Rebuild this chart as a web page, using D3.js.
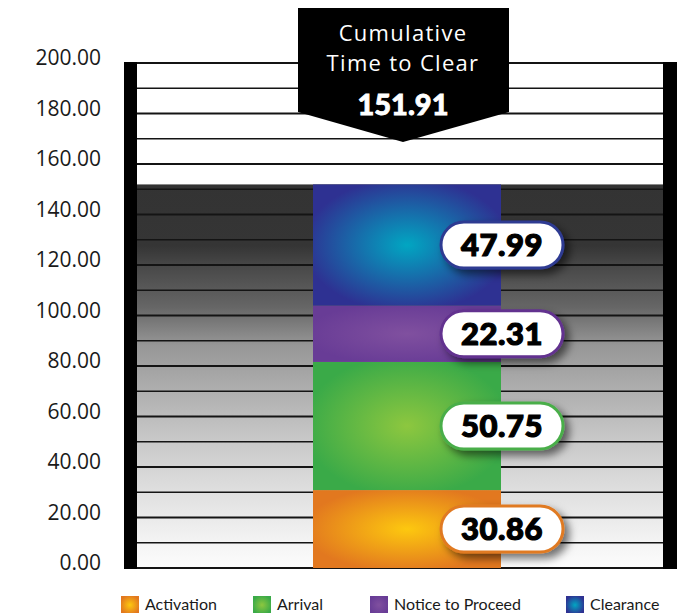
<!DOCTYPE html>
<html>
<head>
<meta charset="utf-8">
<script src="https://cdn.jsdelivr.net/npm/d3@7"></script>
<style>
  html, body { margin: 0; padding: 0; background: #fff; }
  svg { display: block; font-family: Lato, "Open Sans", sans-serif; }
</style>
</head>
<body>
<svg id="chart" width="696" height="613"></svg>
<script>
const categories = ['Activation', 'Arrival', 'Notice to Proceed', 'Clearance'];
const values = [30.86, 50.75, 22.31, 47.99];
const yTicks = [0, 20, 40, 60, 80, 100, 120, 140, 160, 180, 200];
const gridValues = d3.range(0, 201, 10);
const calloutTitle = ['Cumulative', 'Time to Clear'];

const colors = {
  'Activation':        { inner: '#fdc80f', outer: '#e2781f', border: '#e07a22' },
  'Arrival':           { inner: '#8dc73f', outer: '#3aaa48', border: '#4aae4a' },
  'Notice to Proceed': { inner: '#80509f', outer: '#683c96', border: '#62308f' },
  'Clearance':         { inner: '#01a6c2', outer: '#2e3192', border: '#2e3a92' }
};

const svg = d3.select('#chart');
const plot = { left: 137, right: 663, top: 63, bottom: 568 };

const y = d3.scaleLinear().domain([0, 200]).range([plot.bottom, plot.top]);
const x = d3.scaleBand().domain(['total']).range([313, 501]);

const total = d3.sum(values);
let acc = 0;
const stack = categories.map((c, i) => {
  const d = { name: c, value: values[i], y0: acc, y1: acc + values[i] };
  acc += values[i];
  return d;
});

const defs = svg.append('defs');

// background gradient of the filled part
const bg = defs.append('linearGradient')
  .attr('id', 'bg-grad')
  .attr('x1', 0).attr('y1', 0).attr('x2', 0).attr('y2', 1);
[[0, '#333'], [0.16, '#353535'], [0.21, '#474747'], [0.32, '#666'], [0.42, '#979797'],
 [0.57, '#b5b5b5'], [0.66, '#c7c7c7'], [0.83, '#e4e4e4'], [0.95, '#f6f6f6'], [1, '#fcfcfc']]
  .forEach(([o, c]) => bg.append('stop').attr('offset', o).attr('stop-color', c));

categories.forEach((c, i) => {
  const g = defs.append('radialGradient')
    .attr('id', 'seg-' + i)
    .attr('cx', 0.5).attr('cy', 0.5).attr('r', 0.55);
  g.append('stop').attr('offset', 0).attr('stop-color', colors[c].inner);
  g.append('stop').attr('offset', 1).attr('stop-color', colors[c].outer);
});

const shadow = defs.append('filter')
  .attr('id', 'pill-shadow')
  .attr('x', '-30%').attr('y', '-50%').attr('width', '170%').attr('height', '220%');
shadow.append('feDropShadow')
  .attr('dx', 5).attr('dy', 5)
  .attr('stdDeviation', 4)
  .attr('flood-color', '#000')
  .attr('flood-opacity', 0.55);

// gray filled band up to the total
svg.append('rect')
  .attr('x', plot.left)
  .attr('y', y(total))
  .attr('width', plot.right - plot.left)
  .attr('height', y(0) - y(total))
  .attr('fill', 'url(#bg-grad)');

// grid lines
svg.append('g')
  .selectAll('line')
  .data(gridValues)
  .join('line')
  .attr('x1', plot.left)
  .attr('x2', plot.right)
  .attr('y1', d => y(d))
  .attr('y2', d => y(d))
  .attr('stroke', '#141414')
  .attr('stroke-width', d => d % 20 === 0 ? 2.2 : 1.4);

// side posts
[[124, 137], [663, 677]].forEach(([a, b]) => {
  svg.append('rect')
    .attr('x', a).attr('y', plot.top - 1)
    .attr('width', b - a).attr('height', plot.bottom - plot.top + 2)
    .attr('fill', '#000');
});

// y axis labels
const yAxis = svg.append('g')
  .attr('transform', 'translate(101,0)')
  .call(d3.axisLeft(y).tickValues(yTicks).tickFormat(d3.format('.2f')).tickSize(0).tickPadding(0));
yAxis.select('.domain').remove();
yAxis.selectAll('text')
  .attr('y', -5)
  .attr('font-size', 21)
  .attr('font-family', '"Open Sans", Lato, sans-serif')
  .attr('fill', '#1a1a1a');

// stacked segments
svg.append('g')
  .selectAll('rect')
  .data(stack)
  .join('rect')
  .attr('x', x('total'))
  .attr('width', x.bandwidth())
  .attr('y', d => y(d.y1))
  .attr('height', d => y(d.y0) - y(d.y1))
  .attr('fill', (d, i) => `url(#seg-${i})`);

// value pills
const pillW = 122, pillH = 46;
const pills = svg.append('g')
  .selectAll('g')
  .data(stack)
  .join('g')
  .attr('transform', d => `translate(${x('total') + x.bandwidth()}, ${y((d.y0 + d.y1) / 2)})`);
pills.append('rect')
  .attr('x', -pillW / 2 + 1)
  .attr('y', -pillH / 2)
  .attr('width', pillW)
  .attr('height', pillH)
  .attr('rx', pillH / 2)
  .attr('fill', '#fff')
  .attr('stroke', d => colors[d.name].border)
  .attr('stroke-width', 3)
  .attr('filter', 'url(#pill-shadow)');
pills.append('text')
  .attr('x', 1)
  .attr('dy', '0.36em')
  .attr('text-anchor', 'middle')
  .attr('font-size', 31)
  .attr('font-weight', 900)
  .attr('letter-spacing', 0.5)
  .attr('fill', '#000')
  .attr('stroke', '#000')
  .attr('stroke-width', 1.2)
  .text(d => d.value.toFixed(2));

// callout
const callout = svg.append('g');
callout.append('path')
  .attr('d', 'M298,8 H509 V112 L403,142 L298,112 Z')
  .attr('fill', '#000');
callout.selectAll('text.title')
  .data(calloutTitle)
  .join('text')
  .attr('class', 'title')
  .attr('x', 403)
  .attr('y', (d, i) => 41 + i * 30)
  .attr('text-anchor', 'middle')
  .attr('font-family', '"Open Sans", Lato, sans-serif')
  .attr('font-size', 22)
  .attr('letter-spacing', 1.3)
  .attr('fill', '#fff')
  .text(d => d);
callout.append('text')
  .attr('x', 403)
  .attr('y', 115)
  .attr('text-anchor', 'middle')
  .attr('font-size', 29)
  .attr('font-weight', 900)
  .attr('fill', '#fff')
  .attr('stroke', '#fff')
  .attr('stroke-width', 0.8)
  .text(total.toFixed(2));

// legend
const legendX = [121, 253, 370, 566];
const legend = svg.append('g')
  .selectAll('g')
  .data(categories)
  .join('g')
  .attr('transform', (d, i) => `translate(${legendX[i]}, 596)`);
legend.append('rect')
  .attr('width', 18)
  .attr('height', 18)
  .attr('fill', (d, i) => `url(#seg-${i})`);
legend.append('text')
  .attr('x', 24)
  .attr('y', 14)
  .attr('font-size', 16)
  .attr('fill', '#1a1a1a')
  .text(d => d);
</script>
</body>
</html>
